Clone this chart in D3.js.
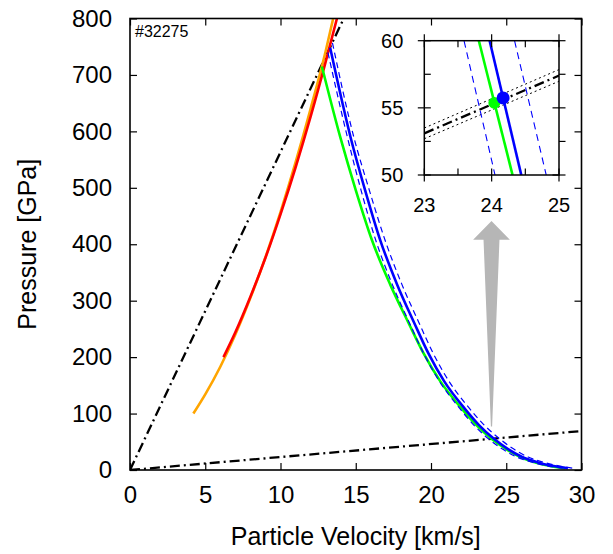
<!DOCTYPE html>
<html><head><meta charset="utf-8">
<script src="https://cdn.jsdelivr.net/npm/d3@7"></script>
<style>
body{margin:0;background:#fff;}
text{font-family:"Liberation Sans",Arial,Helvetica,sans-serif;fill:#000;}
</style></head>
<body><svg id="c" width="613" height="554"></svg>
<script>
// ---------- data (particle velocity km/s, pressure GPa) ----------
const xTicks = [0,5,10,15,20,25,30];
const yTicks = [0,100,200,300,400,500,600,700,800];
const insetXTicks = [23,24,25];
const insetYTicks = [50,55,60];
const insetXMinor = [23.5,24.5];
const insetYMinor = [52.5,57.5];

const orangeCurve = [[4.21,100],[5,134],[6,183],[7,240],[8,305],[9,377],[10,457],[11,545],[12,640],[13,742],[13.5,800]];
const redCurve = [[6.21,200],[7,244],[8,307],[9,376],[10,453],[11,536],[12,626],[13,723],[13.75,800]];
const greenCurve = [[12.75,715],[14,587],[15,496],[16.08,407],[17.3,328],[18.5,261],[19.5,207],[20.62,157],[22,110],[23,80],[24.02,55.3],[25,37],[25.94,23],[27,13],[28,6.8],[28.9,3]];
const blueCurve = [[13.3,748],[14.68,587],[15.62,496],[16.63,407],[17.76,328],[18.88,261],[19.82,207],[20.88,157],[22.2,110],[23.17,80],[24.16,55.7],[25.12,37],[26.06,23],[27.1,13.5],[28.15,7],[29.1,3.2]];
const blueUpper = [[13.45,757],[14.9,587],[15.9,496],[16.95,407],[18.08,328],[19.2,261],[20.14,207],[21.2,157],[22.53,110],[23.52,80],[24.54,55.7],[25.5,37],[26.45,23],[27.5,13.5],[28.55,7],[29.4,3.3]];
const blueLower = [[13.15,740],[14.47,587],[15.35,496],[16.33,407],[17.44,328],[18.56,261],[19.5,207],[20.56,157],[21.88,110],[22.83,80],[23.8,55.7],[24.75,37],[25.7,23],[26.75,13.5],[27.8,7],[28.75,3.2]];
const rayleighSteep = [[0,0],[14.2,800]];
const rayleighShallow = [[0,0],[30,69]];

// inset (zoomed view)
const insetGreen = [[23.81,60],[24.31,50]];
const insetBlue = [[23.97,60],[24.44,50]];
const insetBlueLeft = [[23.59,60],[24.05,50]];
const insetBlueRight = [[24.34,60],[24.81,50]];
const insetRayleigh = [[23,53.1],[25,57.4]];
const insetRayleighHi = [[23,53.5],[25,57.85]];
const insetRayleighLo = [[23,52.7],[25,56.98]];
const insetGreenDot = [24.04,55.37];
const insetBlueDot = [24.17,55.74];

// grey arrow (data coords)
const arrowX = 24.02, arrowTip = 441, arrowHeadBase = 408, arrowTail = 77, arrowHeadHalf = 1.22, arrowShaftHalf = 0.53;

const label = "#32275";

// ---------- drawing ----------
const svg = d3.select("#c");
const x = d3.scaleLinear().domain([0,30]).range([130,581.5]);
const y = d3.scaleLinear().domain([0,800]).range([470,18.5]);
const xi = d3.scaleLinear().domain([23,25]).range([424.3,559]);
const yi = d3.scaleLinear().domain([50,60]).range([175,40.7]);

svg.append("defs").append("clipPath").attr("id","mainClip").append("rect")
  .attr("x",x(0)).attr("y",y(800)).attr("width",x(30)-x(0)).attr("height",y(0)-y(800));
svg.select("defs").append("clipPath").attr("id","insetClip").append("rect")
  .attr("x",xi(23)).attr("y",yi(60)).attr("width",xi(25)-xi(23)).attr("height",yi(50)-yi(60));

const line = d3.line().x(d=>x(d[0])).y(d=>y(d[1])).curve(d3.curveMonotoneX);
const lineLin = d3.line().x(d=>x(d[0])).y(d=>y(d[1]));
const g = svg.append("g").attr("clip-path","url(#mainClip)");

// arrow
const ap = d3.path();
ap.moveTo(x(arrowX), y(arrowTip));
ap.lineTo(x(arrowX+arrowHeadHalf), y(arrowHeadBase));
ap.lineTo(x(arrowX+arrowShaftHalf), y(arrowHeadBase));
ap.lineTo(x(arrowX+0.04), y(arrowTail));
ap.lineTo(x(arrowX-0.04), y(arrowTail));
ap.lineTo(x(arrowX-arrowShaftHalf), y(arrowHeadBase));
ap.lineTo(x(arrowX-arrowHeadHalf), y(arrowHeadBase));
ap.closePath();
g.append("path").attr("d",ap.toString()).attr("fill","#b6b6b6");

g.append("path").attr("d",lineLin(rayleighSteep)).attr("fill","none").attr("stroke","#000").attr("stroke-width",2.3).attr("stroke-dasharray","10,4,2,4");
g.append("path").attr("d",lineLin(rayleighShallow)).attr("fill","none").attr("stroke","#000").attr("stroke-width",2.3).attr("stroke-dasharray","10,4,2,4");

g.append("path").attr("d",line(orangeCurve)).attr("fill","none").attr("stroke","#ffa500").attr("stroke-width",2.6);
g.append("path").attr("d",line(redCurve)).attr("fill","none").attr("stroke","#ff0000").attr("stroke-width",2.6);
g.append("path").attr("d",line(greenCurve)).attr("fill","none").attr("stroke","#00ff00").attr("stroke-width",2.6);
g.append("path").attr("d",line(blueUpper)).attr("fill","none").attr("stroke","#0000ff").attr("stroke-width",1.2).attr("stroke-dasharray","6,4");
g.append("path").attr("d",line(blueLower)).attr("fill","none").attr("stroke","#0000ff").attr("stroke-width",1.2).attr("stroke-dasharray","6,4");
g.append("path").attr("d",line(blueCurve)).attr("fill","none").attr("stroke","#0000ff").attr("stroke-width",2.6);

// main axes
const fs = "24px";
const ax = svg.append("g");
ax.append("g").attr("transform",`translate(0,${y(0)})`)
  .call(d3.axisBottom(x).tickValues(xTicks).tickSizeInner(-7).tickSizeOuter(0).tickPadding(16))
  .call(s=>{s.select(".domain").remove(); s.selectAll("text").style("font-size",fs);});
ax.append("g").attr("transform",`translate(${x(0)},0)`)
  .call(d3.axisLeft(y).tickValues(yTicks).tickSizeInner(-7).tickSizeOuter(0).tickPadding(18))
  .call(s=>{s.select(".domain").remove(); s.selectAll("text").style("font-size",fs);});
ax.append("g").attr("transform",`translate(0,${y(800)})`)
  .call(d3.axisTop(x).tickValues(xTicks).tickSizeInner(-7).tickSizeOuter(0).tickFormat(""))
  .call(s=>s.select(".domain").remove());
ax.append("g").attr("transform",`translate(${x(30)},0)`)
  .call(d3.axisRight(y).tickValues(yTicks).tickSizeInner(-7).tickSizeOuter(0).tickFormat(""))
  .call(s=>s.select(".domain").remove());
ax.selectAll(".tick line").attr("stroke","#000").attr("stroke-width",1.2);
svg.append("rect").attr("x",x(0)).attr("y",y(800)).attr("width",x(30)-x(0)).attr("height",y(0)-y(800))
  .attr("fill","none").attr("stroke","#000").attr("stroke-width",1.6);

svg.append("text").attr("x",(x(0)+x(30))/2).attr("y",545).attr("text-anchor","middle").style("font-size","25px").text("Particle Velocity [km/s]");
svg.append("text").attr("transform",`translate(36,${(y(0)+y(800))/2}) rotate(-90)`).attr("text-anchor","middle").style("font-size","25px").text("Pressure [GPa]");
svg.append("text").attr("x",135).attr("y",36.5).style("font-size","16px").text(label);

// ---------- inset ----------
svg.append("rect").attr("x",xi(23)).attr("y",yi(60)).attr("width",xi(25)-xi(23)).attr("height",yi(50)-yi(60)).attr("fill","#fff");
const li = d3.line().x(d=>xi(d[0])).y(d=>yi(d[1]));
const gi = svg.append("g").attr("clip-path","url(#insetClip)");
gi.append("path").attr("d",li(insetRayleighHi)).attr("fill","none").attr("stroke","#000").attr("stroke-width",1).attr("stroke-dasharray","2,3");
gi.append("path").attr("d",li(insetRayleighLo)).attr("fill","none").attr("stroke","#000").attr("stroke-width",1).attr("stroke-dasharray","2,3");
gi.append("path").attr("d",li(insetRayleigh)).attr("fill","none").attr("stroke","#000").attr("stroke-width",2.3).attr("stroke-dasharray","10,4,2,4");
gi.append("path").attr("d",li(insetBlueLeft)).attr("fill","none").attr("stroke","#0000ff").attr("stroke-width",1.1).attr("stroke-dasharray","7,5");
gi.append("path").attr("d",li(insetBlueRight)).attr("fill","none").attr("stroke","#0000ff").attr("stroke-width",1.1).attr("stroke-dasharray","7,5");
gi.append("path").attr("d",li(insetGreen)).attr("fill","none").attr("stroke","#00ff00").attr("stroke-width",2.6);
gi.append("path").attr("d",li(insetBlue)).attr("fill","none").attr("stroke","#0000ff").attr("stroke-width",2.6);
svg.append("circle").attr("cx",xi(insetGreenDot[0])).attr("cy",yi(insetGreenDot[1])).attr("r",6).attr("fill","#00ff00");
svg.append("circle").attr("cx",xi(insetBlueDot[0])).attr("cy",yi(insetBlueDot[1])).attr("r",6.5).attr("fill","#0000ff");

const gt = svg.append("g").attr("stroke","#000").attr("stroke-width",1.2);
const T = 6.5;
insetXTicks.forEach(v=>{
  gt.append("line").attr("x1",xi(v)).attr("x2",xi(v)).attr("y1",yi(50)-T).attr("y2",yi(50)+T);
  gt.append("line").attr("x1",xi(v)).attr("x2",xi(v)).attr("y1",yi(60)-T).attr("y2",yi(60)+T);
});
insetXMinor.forEach(v=>{
  gt.append("line").attr("x1",xi(v)).attr("x2",xi(v)).attr("y1",yi(50)-T).attr("y2",yi(50));
  gt.append("line").attr("x1",xi(v)).attr("x2",xi(v)).attr("y1",yi(60)).attr("y2",yi(60)+T);
});
insetYTicks.forEach(v=>{
  gt.append("line").attr("x1",xi(23)-T).attr("x2",xi(23)+T).attr("y1",yi(v)).attr("y2",yi(v));
  gt.append("line").attr("x1",xi(25)-T).attr("x2",xi(25)+T).attr("y1",yi(v)).attr("y2",yi(v));
});
insetYMinor.forEach(v=>{
  gt.append("line").attr("x1",xi(23)).attr("x2",xi(23)+T).attr("y1",yi(v)).attr("y2",yi(v));
  gt.append("line").attr("x1",xi(25)).attr("x2",xi(25)+T).attr("y1",yi(v)).attr("y2",yi(v));
});
svg.append("rect").attr("x",xi(23)).attr("y",yi(60)).attr("width",xi(25)-xi(23)).attr("height",yi(50)-yi(60))
  .attr("fill","none").attr("stroke","#000").attr("stroke-width",1.5);
insetXTicks.forEach(v=>{
  svg.append("text").attr("x",xi(v)).attr("y",yi(50)+36.5).attr("text-anchor","middle").style("font-size","20px").text(v);
});
insetYTicks.forEach(v=>{
  svg.append("text").attr("x",xi(23)-21).attr("y",yi(v)).attr("dy","0.35em").attr("text-anchor","end").style("font-size","20px").text(v);
});
</script></body></html>
